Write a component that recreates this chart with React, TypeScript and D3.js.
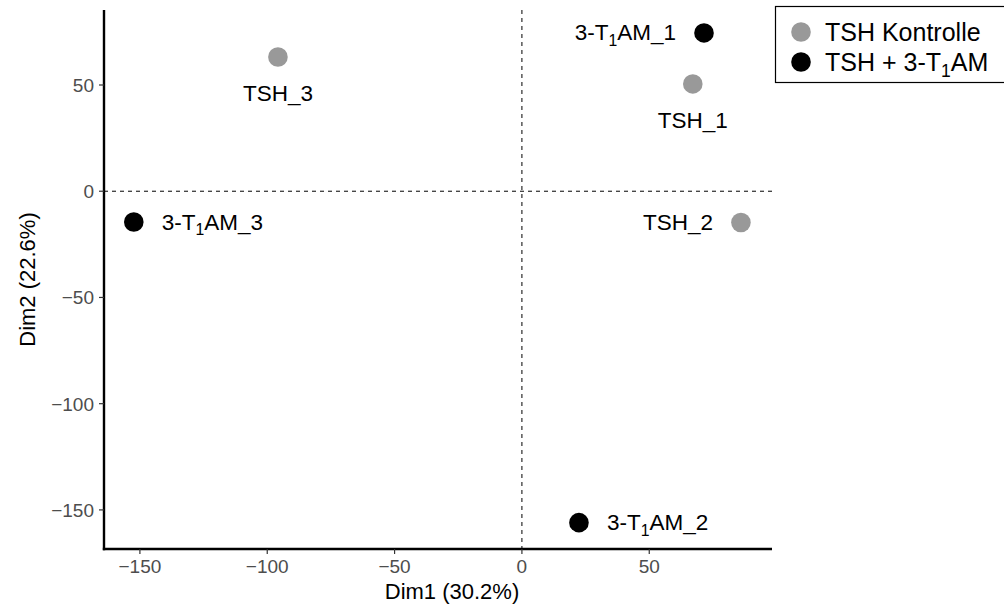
import React from "react";
import * as d3 from "d3";

// PCA scores of the six samples
const samples = ["TSH_1", "TSH_2", "TSH_3", "3-T1AM_1", "3-T1AM_2", "3-T1AM_3"];
const dim1 = [67.1, 86.0, -95.8, 71.5, 22.4, -152.4];
const dim2 = [50.5, -14.7, 63.2, 74.5, -156.0, -14.5];
const groups = ["ctrl", "ctrl", "ctrl", "t1am", "t1am", "t1am"];

// where each sample's label sits relative to its point
const labelSide = ["below", "left", "below", "left", "right", "right"];

const groupKeys = ["ctrl", "t1am"];
const groupNames = ["TSH Kontrolle", "TSH + 3-T1AM"];
const groupColors = ["#999999", "#000000"];

const xTicks = [-150, -100, -50, 0, 50];
const yTicks = [-150, -100, -50, 0, 50];
const xTitle = "Dim1 (30.2%)";
const yTitle = "Dim2 (22.6%)";

const W = 1004;
const H = 611;
const panel = { left: 104, right: 772, top: 10, bottom: 549 };
const FONT = "'Liberation Sans', Arial, sans-serif";

// renders a label, turning "T1" into T with a subscript 1
function RichText({ text, size }: { text: string; size: number }) {
  const parts = text.split(/(T1)/);
  const shift = size * 0.26;
  const out: React.ReactNode[] = [];
  let pendingReset = false;
  parts.forEach((p, i) => {
    if (p === "T1") {
      out.push(<tspan key={i + "t"} dy={pendingReset ? -shift : undefined}>T</tspan>);
      out.push(
        <tspan key={i + "s"} fontSize={size * 0.7} dy={shift}>
          1
        </tspan>
      );
      pendingReset = true;
    } else if (p.length) {
      out.push(
        <tspan key={i} dy={pendingReset ? -shift : undefined}>
          {p}
        </tspan>
      );
      pendingReset = false;
    }
  });
  return <>{out}</>;
}

const fmt = (t: number) => (t < 0 ? "\u2212" + Math.abs(t) : String(t));

export default function App() {
  const x = d3.scaleLinear().domain([-164.1, 98.2]).range([panel.left, panel.right]);
  const y = d3.scaleLinear().domain([-168.4, 85.3]).range([panel.bottom, panel.top]);
  const color = d3.scaleOrdinal<string, string>().domain(groupKeys).range(groupColors);

  const r = 9.8;
  const labelSize = 22.5;
  const legendSize = 25;

  return (
    <svg
      width={W}
      height={H}
      style={{ position: "absolute", left: 0, top: 0, background: "#fff" }}
      fontFamily={FONT}
    >
      <rect width={W} height={H} fill="#fff" />

      {/* reference lines at the origin */}
      <line
        x1={panel.left}
        x2={panel.right}
        y1={y(0)}
        y2={y(0)}
        stroke="#000"
        strokeWidth={1}
        strokeDasharray="4,4"
      />
      <line
        x1={x(0)}
        x2={x(0)}
        y1={panel.top}
        y2={panel.bottom}
        stroke="#000"
        strokeWidth={1}
        strokeDasharray="4,4"
      />

      {/* axes */}
      <line x1={panel.left} x2={panel.left} y1={panel.top} y2={panel.bottom + 1.2} stroke="#000" strokeWidth={2.4} />
      <line x1={panel.left - 1.2} x2={panel.right} y1={panel.bottom} y2={panel.bottom} stroke="#000" strokeWidth={2.4} />

      {xTicks.map((t) => (
        <g key={"xt" + t}>
          <line x1={x(t)} x2={x(t)} y1={panel.bottom} y2={panel.bottom + 5} stroke="#333" strokeWidth={1.2} />
          <text x={x(t)} y={panel.bottom + 24} textAnchor="middle" fontSize={19} fill="#4D4D4D">
            {fmt(t)}
          </text>
        </g>
      ))}
      {yTicks.map((t) => (
        <g key={"yt" + t}>
          <line x1={panel.left - 5} x2={panel.left} y1={y(t)} y2={y(t)} stroke="#333" strokeWidth={1.2} />
          <text x={panel.left - 10} y={y(t)} dy="0.36em" textAnchor="end" fontSize={19} fill="#4D4D4D">
            {fmt(t)}
          </text>
        </g>
      ))}

      <text x={452} y={599} textAnchor="middle" fontSize={22} fill="#000">
        {xTitle}
      </text>
      <text
        transform={`translate(35,${(panel.top + panel.bottom) / 2}) rotate(-90)`}
        textAnchor="middle"
        fontSize={22}
        fill="#000"
      >
        {yTitle}
      </text>

      {/* sample points */}
      {samples.map((s, i) => (
        <circle key={s} cx={x(dim1[i])} cy={y(dim2[i])} r={r} fill={color(groups[i])} />
      ))}

      {/* sample labels */}
      {samples.map((s, i) => {
        const px = x(dim1[i]);
        const py = y(dim2[i]);
        const side = labelSide[i];
        let tx = px;
        let ty = py;
        let anchor: "start" | "middle" | "end" = "middle";
        if (side === "below") {
          ty = py + 44;
        } else if (side === "left") {
          tx = px - 28;
          ty = py + 7.5;
          anchor = "end";
        } else {
          tx = px + 28;
          ty = py + 7.5;
          anchor = "start";
        }
        return (
          <text key={"l" + s} x={tx} y={ty} textAnchor={anchor} fontSize={labelSize} fill="#000">
            <RichText text={s} size={labelSize} />
          </text>
        );
      })}

      {/* legend */}
      <g>
        <rect x={775.5} y={6.5} width={240} height={76} fill="#fff" stroke="#000" strokeWidth={1.2} />
        {groupKeys.map((g, i) => (
          <g key={g} transform={`translate(801,${32 + i * 30})`}>
            <circle r={9.8} fill={color(g)} />
            <text x={24} y={8.5} fontSize={legendSize} fill="#000">
              <RichText text={groupNames[i]} size={legendSize} />
            </text>
          </g>
        ))}
      </g>
    </svg>
  );
}
